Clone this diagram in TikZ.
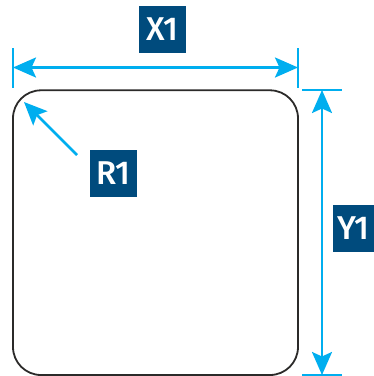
\documentclass[tikz,border=0pt]{standalone}
\usepackage{fontspec}
\setmainfont{Fira Sans Medium}[LetterSpace=-2]
\usetikzlibrary{arrows.meta}
\definecolor{dimblue}{HTML}{00AEEF}
\definecolor{labelblue}{HTML}{004B7D}
\definecolor{outline}{HTML}{2B2A29}
\tikzset{
  x=1pt,y=-1pt,
  dimline/.style={draw=dimblue,line width=2.5pt},
  dimarrow/.style={dimline,{Stealth[length=23pt,width=20pt,inset=4.5pt,color=dimblue]}-{Stealth[length=23pt,width=20pt,inset=4.5pt,color=dimblue]}},
  leader/.style={dimline,-{Stealth[length=23pt,width=20pt,inset=4.5pt,color=dimblue]}},
  dimlabel/.style={fill=labelblue,text=white,inner sep=0pt,minimum width=47pt,minimum height=47pt,font=\fontsize{33}{33}\selectfont,anchor=center},
  narrowlabel/.style={dimlabel,minimum width=41pt},
  plate/.style={draw=outline,line width=1.8pt,rounded corners=28pt}
}
\begin{document}
\begin{tikzpicture}
\useasboundingbox (0,0) rectangle (374,376);
\draw[plate] (13,90.3) rectangle (298,375);
\coordinate (xl) at (13,67.5);
\coordinate (xr) at (298,67.5);
\coordinate (yt) at (322,90);
\coordinate (yb) at (322,375);
\coordinate (rtip) at (24,102);
\coordinate (rtail) at (77,155);
\draw[dimline] (13,48) -- (13,87.5);
\draw[dimline] (298,48) -- (298,87.5);
\draw[dimline] (302,90) -- (342,90);
\draw[dimline] (302,375) -- (342,375);
\draw[dimarrow] (xl) -- (xr);
\draw[dimarrow] (yt) -- (yb);
\draw[leader] (rtail) -- (rtip);
\node[dimlabel] (x1) at (162.5,29.5) {X1};
\node[dimlabel] (r1) at (113.5,173.5) {R1};
\node[narrowlabel] (y1) at (353.5,228.5) {Y1};
\end{tikzpicture}
\end{document}
